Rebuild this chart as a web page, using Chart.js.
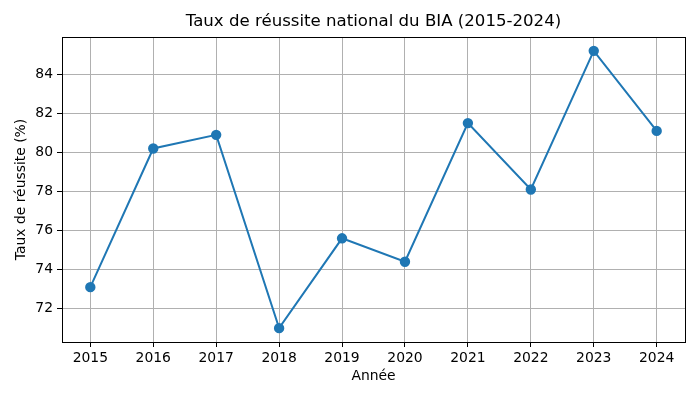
<!DOCTYPE html>
<html lang="fr">
<head>
    <meta charset="UTF-8">
    <title>Taux de réussite national du BIA</title>
    <style>
        body { margin: 0; background: #fff; }
        canvas { display: block; }
    </style>
    <script src="https://cdn.jsdelivr.net/npm/chart.js"></script>
</head>
<body>
<canvas id="biaChart" width="700" height="400"></canvas>
<script>
    // Données
    const annees = [2015, 2016, 2017, 2018, 2019, 2020, 2021, 2022, 2023, 2024];
    const tauxReussite = [73.1, 80.2, 80.9, 71.0, 75.6, 74.4, 81.5, 78.1, 85.2, 81.1];
    const ticksY = [72, 74, 76, 78, 80, 82, 84];
    const titre = 'Taux de réussite national du BIA (2015-2024)';

    const police = 'DejaVu Sans';

    // Cadre noir autour de la zone du graphique + titre centré sur cette zone
    const cadre = {
        id: 'cadre',
        afterDraw(chart) {
            const { ctx, chartArea: a } = chart;
            ctx.save();
            ctx.strokeStyle = '#000';
            ctx.lineWidth = 1;
            ctx.strokeRect(a.left + 0.5, a.top + 0.5, a.right - a.left, a.bottom - a.top);
            ctx.fillStyle = '#000';
            ctx.font = '16.6px "' + police + '"';
            ctx.textAlign = 'center';
            ctx.textBaseline = 'middle';
            ctx.fillText(titre, (a.left + a.right) / 2, 22);
            ctx.restore();
        }
    };

    new Chart(document.getElementById('biaChart').getContext('2d'), {
        type: 'line',
        data: {
            datasets: [{
                data: annees.map((a, i) => ({ x: a, y: tauxReussite[i] })),
                borderColor: '#1f77b4',
                backgroundColor: '#1f77b4',
                borderWidth: 2,
                pointRadius: 4.2,
                pointHoverRadius: 4.2,
                tension: 0
            }]
        },
        options: {
            responsive: false,
            animation: false,
            layout: { padding: { left: 10, right: 15, top: 37, bottom: 15 } },
            plugins: {
                legend: { display: false },
                tooltip: { enabled: false },
                title: { display: false }
            },
            scales: {
                x: {
                    type: 'linear',
                    min: 2014.55,
                    max: 2024.45,
                    afterBuildTicks: s => { s.ticks = annees.map(v => ({ value: v })); },
                    afterFit: s => { s.height = 43; },
                    ticks: {
                        color: '#000',
                        font: { family: police, size: 13.9 },
                        padding: 3,
                        maxRotation: 0,
                        callback: v => String(v)
                    },
                    grid: { color: '#b0b0b0', tickColor: '#000', tickLength: 5, lineWidth: 1 },
                    border: { color: '#000' },
                    title: {
                        display: true,
                        text: 'Année',
                        color: '#000',
                        font: { family: police, size: 13.9 },
                        padding: { top: 0, bottom: 0 }
                    }
                },
                y: {
                    min: 70.29,
                    max: 85.91,
                    afterBuildTicks: s => { s.ticks = ticksY.map(v => ({ value: v })); },
                    afterFit: s => { s.width = 52; },
                    ticks: {
                        color: '#000',
                        font: { family: police, size: 13.9 },
                        padding: 4
                    },
                    grid: { color: '#b0b0b0', tickColor: '#000', tickLength: 5, lineWidth: 1 },
                    border: { color: '#000' },
                    title: {
                        display: true,
                        text: 'Taux de réussite (%)',
                        color: '#000',
                        font: { family: police, size: 13.9 },
                        padding: { top: 3, bottom: 0 }
                    }
                }
            }
        },
        plugins: [cadre]
    });
</script>
</body>
</html>
